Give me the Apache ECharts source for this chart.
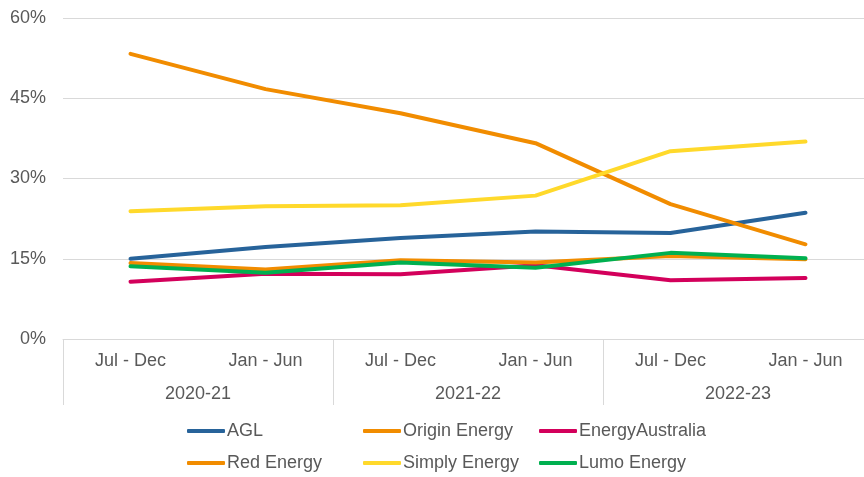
<!DOCTYPE html>
<html>
<head>
<meta charset="utf-8">
<script src="https://cdn.jsdelivr.net/npm/echarts@6/dist/echarts.min.js"></script>
<style>
  html, body { margin: 0; padding: 0; background: #fff; overflow: hidden; }
  /* the plot area runs a little past the right edge of the window */
  #chart { width: 873px; height: 477px; }
</style>
</head>
<body>
<div id="chart"></div>
<script>
// Half-year periods and the financial years they belong to
const periods = ['Jul - Dec', 'Jan - Jun', 'Jul - Dec', 'Jan - Jun', 'Jul - Dec', 'Jan - Jun'];
const years = ['2020-21', '2021-22', '2022-23'];
const yTicks = [0, 15, 30, 45, 60];

// Share of customers (%) per retailer
const agl = [15.0, 17.2, 18.9, 20.1, 19.8, 23.6];
const origin = [14.2, 13.0, 14.7, 14.3, 15.5, 14.9];
const energyAustralia = [10.7, 12.2, 12.1, 13.8, 11.0, 11.4];
const redEnergy = [53.3, 46.7, 42.2, 36.6, 25.2, 17.7];
const simplyEnergy = [23.9, 24.8, 25.0, 26.8, 35.1, 36.9];
const lumoEnergy = [13.6, 12.4, 14.3, 13.3, 16.1, 15.1];

// z sets the stacking of overlapping lines (EnergyAustralia sits under Origin)
const seriesDefs = [
  { name: 'AGL', data: agl, color: '#27639A', z: 2 },
  { name: 'Origin Energy', data: origin, color: '#F18C00', z: 4 },
  { name: 'EnergyAustralia', data: energyAustralia, color: '#D3005B', z: 3 },
  { name: 'Red Energy', data: redEnergy, color: '#F18C00', z: 5 },
  { name: 'Simply Energy', data: simplyEnergy, color: '#FFD92B', z: 6 },
  { name: 'Lumo Energy', data: lumoEnergy, color: '#00B050', z: 7 }
];

const FONT = '"Liberation Sans", Arial, sans-serif';
const TEXT = '#595959';
const GRID_LINE = '#D9D9D9';

function legendColumn(names, left) {
  return {
    orient: 'vertical',
    left: left,
    top: 422,
    itemWidth: 38,
    itemHeight: 4,
    itemGap: 14,
    icon: 'roundRect',
    padding: 0,
    data: names,
    textStyle: { fontFamily: FONT, fontSize: 18, color: TEXT, padding: [0, 0, 0, -3] }
  };
}

const chart = echarts.init(document.getElementById('chart'), null, { renderer: 'canvas' });
chart.setOption({
  animation: false,
  backgroundColor: '#fff',
  color: seriesDefs.map(s => s.color),
  grid: { left: 63, top: 18, right: 0, bottom: 138, containLabel: false },
  legend: [
    legendColumn(['AGL', 'Red Energy'], 187),
    legendColumn(['Origin Energy', 'Simply Energy'], 363),
    legendColumn(['EnergyAustralia', 'Lumo Energy'], 539)
  ],
  xAxis: [
    {
      type: 'category',
      data: periods,
      boundaryGap: true,
      axisLine: { show: true, lineStyle: { color: GRID_LINE, width: 1 } },
      axisTick: { show: false },
      axisLabel: { interval: 0, margin: 13, fontFamily: FONT, fontSize: 18, color: TEXT }
    },
    {
      type: 'category',
      data: years,
      position: 'bottom',
      boundaryGap: true,
      axisLine: { show: false },
      axisTick: { show: true, interval: 0, length: 66, lineStyle: { color: GRID_LINE, width: 1 } },
      axisLabel: { interval: 0, margin: 46, fontFamily: FONT, fontSize: 18, color: TEXT }
    }
  ],
  yAxis: {
    type: 'value',
    min: yTicks[0],
    max: yTicks[yTicks.length - 1],
    interval: yTicks[1] - yTicks[0],
    axisLine: { show: false },
    axisTick: { show: false },
    splitLine: { lineStyle: { color: GRID_LINE, width: 1 } },
    axisLabel: { margin: 17, formatter: '{value}%', fontFamily: FONT, fontSize: 18, color: TEXT }
  },
  series: seriesDefs.map(s => ({
    name: s.name,
    type: 'line',
    xAxisIndex: 0,
    z: s.z,
    data: s.data,
    symbol: 'none',
    lineStyle: { width: 4, color: s.color, cap: 'round', join: 'round' },
    itemStyle: { color: s.color }
  }))
});
</script>
</body>
</html>
